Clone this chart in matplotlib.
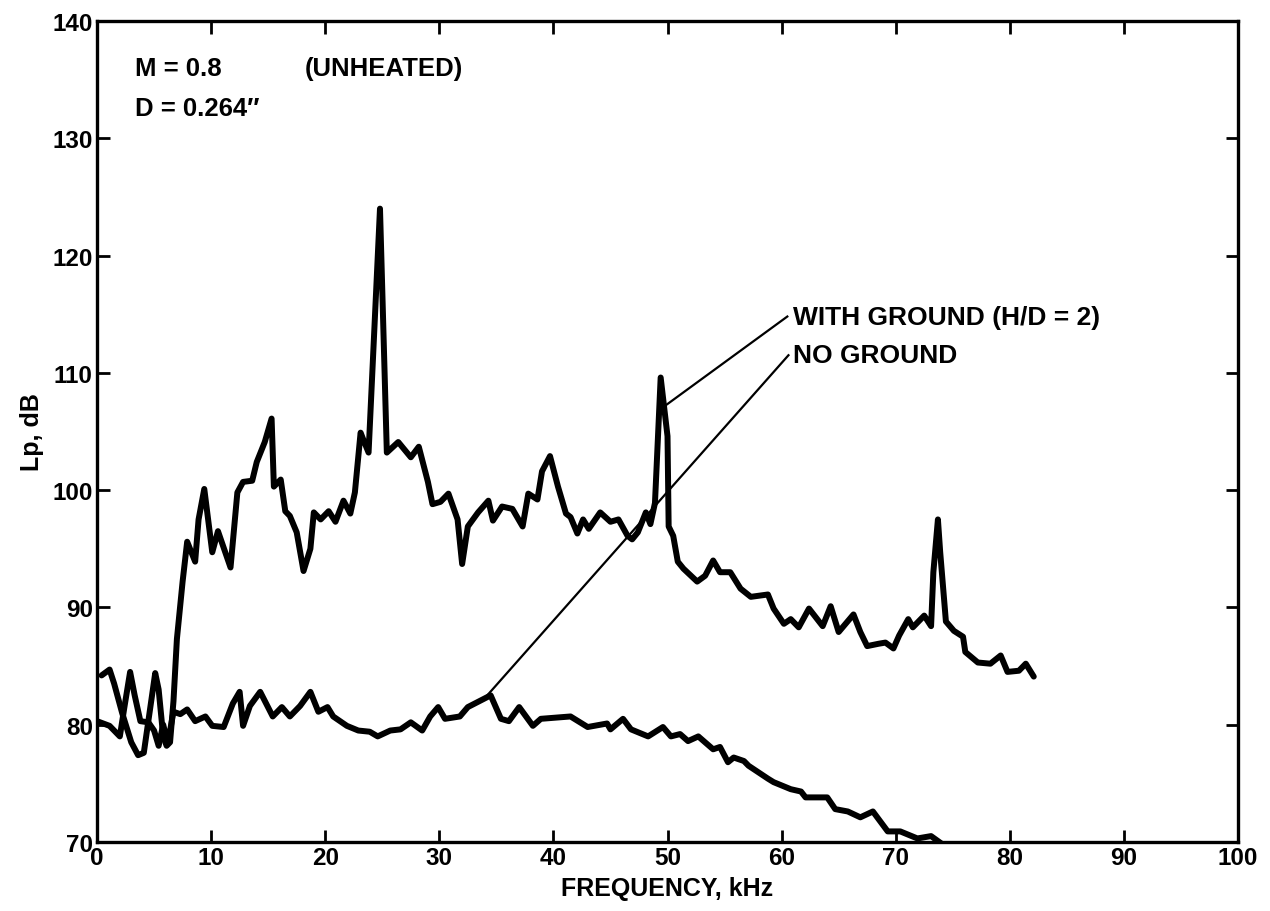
import numpy as np
import matplotlib
matplotlib.use("Agg")
import matplotlib.pyplot as plt

plt.rcParams["font.family"] = ["Liberation Sans", "DejaVu Sans"]
plt.rcParams["font.weight"] = "bold"

# Spektrum með jörð (H/D = 2)
f_ground = [0.4, 1.1, 1.5, 2.2, 3.0, 3.6, 4.1, 4.6, 5.1, 5.4, 5.8, 6.1, 6.4, 6.7,
            7.0, 7.5, 7.9, 8.6, 8.9, 9.4, 10.1, 10.6, 11.7, 12.3, 12.8, 13.6,
            14.0, 14.7, 15.3, 15.5, 16.1, 16.5, 16.9, 17.5, 18.1, 18.7, 19.0,
            19.6, 20.3, 20.9, 21.6, 22.2, 22.6, 23.1, 23.3, 23.8, 24.8, 25.4,
            26.4, 27.5, 28.2, 29.0, 29.4, 30.1, 30.8, 31.6, 32.0, 32.5, 33.4,
            34.3, 34.7, 35.5, 36.4, 37.3, 37.8, 38.6, 39.0, 39.7, 40.4, 41.1,
            41.5, 42.1, 42.6, 43.1, 44.1, 45.0, 45.7, 46.5, 46.9, 47.4, 48.1,
            48.5, 48.9, 49.4, 50.0, 50.1, 50.5, 50.9, 51.4, 52.6, 53.3, 54.0,
            54.6, 55.5, 56.4, 57.3, 58.8, 59.3, 60.2, 60.8, 61.5, 62.4, 63.6,
            64.3, 65.0, 66.3, 66.9, 67.5, 68.5, 69.1, 69.8, 70.3, 71.1, 71.5,
            72.5, 73.1, 73.3, 73.7, 73.9, 74.4, 75.1, 75.9, 76.1, 77.2, 78.3,
            79.2, 79.8, 80.8, 81.4, 82.1]
lp_ground = [84.2, 84.7, 83.5, 81.0, 78.5, 77.4, 77.6, 81.0, 84.4, 83.0, 79.0,
             78.2, 78.5, 82.0, 87.3, 92.2, 95.6, 93.9, 97.5, 100.1, 94.7, 96.5,
             93.4, 99.8, 100.7, 100.8, 102.4, 104.1, 106.1, 100.3, 100.9, 98.2,
             97.8, 96.4, 93.1, 95.0, 98.1, 97.5, 98.2, 97.3, 99.1, 98.0, 99.8,
             104.9, 104.4, 103.2, 124.0, 103.2, 104.1, 102.8, 103.7, 100.7,
             98.8, 99.0, 99.7, 97.5, 93.7, 96.9, 98.1, 99.1, 97.4, 98.6, 98.4,
             96.9, 99.7, 99.2, 101.6, 102.9, 100.3, 98.0, 97.7, 96.3, 97.5,
             96.7, 98.1, 97.3, 97.5, 96.1, 95.8, 96.4, 98.1, 97.1, 98.9, 109.6,
             104.6, 96.9, 96.1, 93.9, 93.3, 92.2, 92.7, 94.0, 93.0, 93.0, 91.6,
             90.9, 91.1, 89.9, 88.6, 89.0, 88.3, 89.9, 88.4, 90.1, 87.9, 89.4,
             87.9, 86.7, 86.9, 87.0, 86.5, 87.6, 89.0, 88.3, 89.3, 88.4, 93.0,
             97.5, 94.7, 88.8, 88.0, 87.5, 86.2, 85.3, 85.2, 85.9, 84.5, 84.6,
             85.2, 84.1]

# Spektrum án jarðar
f_free = [0.0, 1.1, 2.0, 2.4, 2.9, 3.3, 3.8, 4.5, 5.0, 5.4, 5.8, 6.2, 6.7, 7.3,
          7.9, 8.6, 9.5, 10.1, 11.1, 11.9, 12.5, 12.8, 13.4, 14.3, 15.4, 16.2,
          16.9, 17.8, 18.7, 19.4, 20.2, 20.7, 21.9, 22.9, 23.9, 24.6, 25.7,
          26.6, 27.5, 28.5, 29.2, 29.9, 30.5, 31.8, 32.5, 33.9, 34.5, 35.4,
          36.1, 37.0, 38.2, 38.9, 41.5, 43.0, 44.7, 45.0, 46.1, 46.8, 48.3,
          49.6, 50.3, 51.1, 51.8, 52.7, 54.0, 54.6, 55.3, 55.8, 56.7, 57.1,
          58.8, 59.3, 60.8, 61.7, 62.1, 64.0, 64.7, 65.8, 66.9, 68.0, 69.3,
          70.4, 71.9, 73.1, 74.1]
lp_free = [80.3, 79.9, 79.0, 81.5, 84.5, 82.5, 80.3, 80.2, 79.5, 78.2, 80.0,
           78.4, 81.1, 80.9, 81.3, 80.3, 80.7, 79.9, 79.8, 81.8, 82.8, 79.9,
           81.6, 82.8, 80.7, 81.5, 80.7, 81.6, 82.8, 81.1, 81.5, 80.7, 79.9,
           79.5, 79.4, 79.0, 79.5, 79.6, 80.2, 79.5, 80.7, 81.5, 80.5, 80.7,
           81.5, 82.2, 82.5, 80.5, 80.3, 81.5, 79.9, 80.5, 80.7, 79.8, 80.1,
           79.6, 80.5, 79.6, 79.0, 79.8, 79.0, 79.2, 78.6, 79.0, 77.9, 78.1,
           76.8, 77.2, 76.9, 76.5, 75.4, 75.1, 74.5, 74.3, 73.8, 73.8, 72.8,
           72.6, 72.1, 72.6, 70.9, 70.9, 70.3, 70.5, 69.8]

fig = plt.figure(figsize=(12.7, 9.12), dpi=100)
ax = fig.add_axes([0.0764, 0.0757, 0.8984, 0.9002])

ax.plot(f_ground, lp_ground, color="black", lw=4.3, solid_joinstyle="round",
        solid_capstyle="round")
ax.plot(f_free, lp_free, color="black", lw=4.3, solid_joinstyle="round",
        solid_capstyle="round")

# leiðarlínur að merkingum
ax.plot([49.8, 60.5], [107.2, 114.8], color="black", lw=1.6)
ax.plot([34.2, 60.6], [82.5, 111.5], color="black", lw=1.6)
ax.text(61.0, 114.8, "WITH GROUND (H/D = 2)", fontsize=19, va="center",
        fontweight="bold")
ax.text(61.0, 111.5, "NO GROUND", fontsize=19, va="center",
        fontweight="bold")

ax.text(3.3, 136.0, "M = 0.8", fontsize=18.5, va="center", fontweight="bold")
ax.text(18.2, 136.0, "(UNHEATED)", fontsize=18.5, va="center",
        fontweight="bold")
ax.text(3.3, 132.6, "D = 0.264\u2033", fontsize=18.5, va="center",
        fontweight="bold")

ax.set_xlim(0, 100)
ax.set_ylim(70, 140)
ax.set_xticks(np.arange(0, 101, 10))
ax.set_yticks(np.arange(70, 141, 10))
ax.tick_params(direction="in", length=9, width=2, top=True, right=True,
               labelsize=17.5, pad=3)
for lab in ax.get_xticklabels() + ax.get_yticklabels():
    lab.set_fontweight("bold")
for sp in ax.spines.values():
    sp.set_linewidth(2.4)

ax.set_xlabel("FREQUENCY, kHz", fontsize=18, fontweight="bold", labelpad=5)
ax.set_ylabel("Lp, dB", fontsize=18, fontweight="bold", labelpad=6)

fig.savefig("out.png", dpi=100)
